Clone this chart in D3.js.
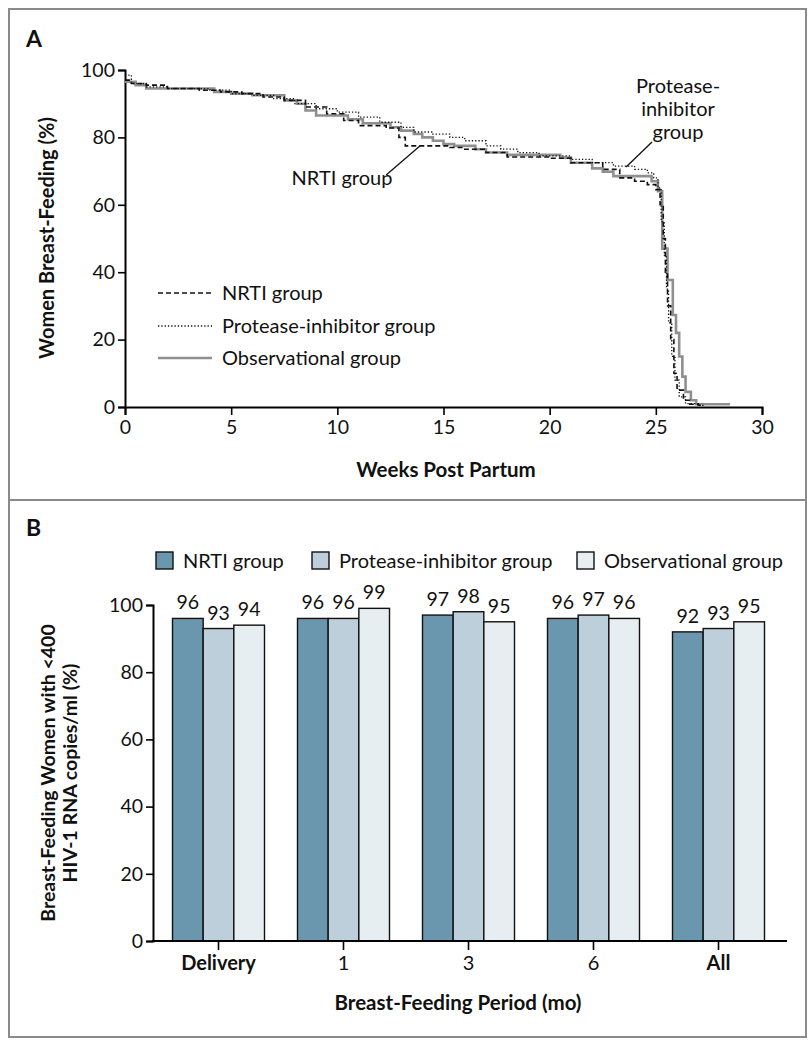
<!DOCTYPE html>
<html>
<head>
<meta charset="utf-8">
<script src="https://cdn.jsdelivr.net/npm/d3@7"></script>
<style>
  html, body { margin: 0; padding: 0; background: #fff; }
  svg { display: block; }
  text { font-family: Lato, "Open Sans", sans-serif; fill: #111; }
</style>
</head>
<body>
<script>
// ---------- Panel A data (Kaplan-Meier style step curves) ----------
const weekTicks = [0, 5, 10, 15, 20, 25, 30];
const pctTicksA = [0, 20, 40, 60, 80, 100];

const nrtiCurve = [
  [0, 97], [0.3, 96], [1, 95.5], [2, 94.5], [3.5, 94], [4.5, 93.5], [5.5, 93], [6.5, 92],
  [7.5, 91], [8.5, 89], [9.5, 87], [10.3, 85], [11, 83.5], [12.3, 82.8], [12.9, 80],
  [13.2, 77.5], [15.3, 77], [16, 76.5], [17, 75.5], [18, 74.2], [20, 73.8], [21, 72.5],
  [22.5, 70.5], [23.3, 68], [24, 67], [24.6, 66], [25, 64.5], [25.2, 60], [25.35, 50],
  [25.45, 40], [25.55, 30], [25.7, 20], [25.85, 10], [26, 5], [26.3, 2], [26.6, 0.8],
  [27, 0.5], [27.2, 0.5]
];
const piCurve = [
  [0, 98.5], [0.3, 96], [1, 95], [2, 94.5], [4, 94], [5, 93], [6, 92.5], [7, 91.5],
  [8, 90], [9, 88.5], [10, 87.5], [11, 86], [12, 84.5], [13, 83], [13.6, 81.6],
  [14.5, 81], [15.3, 80], [16, 79], [17, 77.5], [17.7, 76.5], [18.5, 75.5], [19.5, 74.5],
  [21, 73.5], [22, 72.5], [23, 71.5], [24, 70.5], [24.6, 69.5], [24.9, 68], [25.1, 65],
  [25.25, 55], [25.4, 45], [25.5, 35], [25.6, 25], [25.75, 15], [25.9, 8], [26.1, 3],
  [26.4, 1], [27, 0.5], [27.3, 0.5]
];
const obsCurve = [
  [0, 96.5], [0.5, 95.5], [1, 94.5], [4.2, 93.5], [5, 93], [6, 92.5], [7.5, 91],
  [8.1, 90], [8.5, 88], [9, 86.5], [10.5, 85.4], [11.2, 84.2], [12.5, 83], [13, 82],
  [13.6, 81], [14, 80], [14.5, 79], [15, 78], [15.5, 77.5], [16.5, 76.5], [17, 75.5],
  [18, 74.8], [20.5, 74], [21, 72.5], [22, 70.8], [22.5, 69.8], [23, 68.5], [24.8, 67],
  [25.1, 64], [25.3, 47], [25.55, 37.7], [25.8, 27.3], [25.95, 22], [26.1, 15],
  [26.25, 9], [26.4, 4.5], [26.65, 2], [26.9, 0.8], [28.5, 0.8]
];
const curveNames = ["NRTI group", "Protease-inhibitor group", "Observational group"];

// ---------- Panel B data ----------
const periods = ["Delivery", "1", "3", "6", "All"];
const boldPeriods = ["Delivery", "All"];
const groups = ["NRTI group", "Protease-inhibitor group", "Observational group"];
const nrtiPct = [96, 96, 97, 96, 92];
const piPct = [93, 96, 98, 97, 93];
const obsPct = [94, 99, 95, 96, 95];
const pctTicksB = [0, 20, 40, 60, 80, 100];
const barColors = ["#6a97ad", "#bccfda", "#e6eef2"];

const W = 810, H = 1050;
const svg = d3.select("body").append("svg").attr("width", W).attr("height", H);

// Frame
svg.append("rect").attr("x", 9).attr("y", 9).attr("width", 797).attr("height", 1028)
  .attr("fill", "none").attr("stroke", "#8a8a8a").attr("stroke-width", 2);
svg.append("line").attr("x1", 9).attr("x2", 806).attr("y1", 500).attr("y2", 500)
  .attr("stroke", "#8a8a8a").attr("stroke-width", 2);

const TXT = 20, TICK = 19.5;

// ================= PANEL A =================
svg.append("text").attr("x", 26).attr("y", 47).attr("font-size", 23).attr("font-weight", 700).text("A");

const xA = d3.scaleLinear().domain([0, 30]).range([125, 762]);
const yA = d3.scaleLinear().domain([0, 100]).range([407, 70]);

const gA = svg.append("g");
const axXA = gA.append("g").attr("transform", `translate(0,${yA(0)})`)
  .call(d3.axisBottom(xA).tickValues(weekTicks).tickSizeOuter(0).tickSize(8).tickPadding(5));
const axYA = gA.append("g").attr("transform", `translate(${xA(0)},0)`)
  .call(d3.axisLeft(yA).tickValues(pctTicksA).tickSizeOuter(0).tickSize(7).tickPadding(3));
[axXA, axYA].forEach(a => {
  a.select(".domain").attr("stroke", "#000").attr("stroke-width", 2);
  a.selectAll(".tick line").attr("stroke", "#000").attr("stroke-width", 1.6);
  a.selectAll(".tick text").attr("font-family", "Lato, sans-serif").attr("font-size", TICK).attr("fill", "#111");
});

svg.append("text").attr("x", 446).attr("y", 477).attr("text-anchor", "middle")
  .attr("font-size", 20.5).attr("font-weight", 700).text("Weeks Post Partum");
svg.append("text").attr("transform", `translate(54,238) rotate(-90)`).attr("text-anchor", "middle")
  .attr("font-family", "'Liberation Sans', Arial, sans-serif").attr("font-size", 20).attr("font-weight", 700)
  .text("Women Breast-Feeding (%)");

const lineA = d3.line().x(d => xA(d[0])).y(d => yA(d[1])).curve(d3.curveStepAfter);
const styles = [
  { stroke: "#111", width: 1.6, dash: "5,3" },
  { stroke: "#111", width: 1.3, dash: "1.3,2" },
  { stroke: "#8f8f8f", width: 2.6, dash: null }
];
const curves = [obsCurve, nrtiCurve, piCurve];
const curveStyle = [styles[2], styles[0], styles[1]];
curves.forEach((c, i) => {
  gA.append("path").attr("d", lineA(c)).attr("fill", "none")
    .attr("stroke", curveStyle[i].stroke).attr("stroke-width", curveStyle[i].width)
    .attr("stroke-dasharray", curveStyle[i].dash);
});

// Legend A
const legY = [293, 326, 358];
curveNames.forEach((n, i) => {
  svg.append("line").attr("x1", 158).attr("x2", 212).attr("y1", legY[i]).attr("y2", legY[i])
    .attr("stroke", styles[i].stroke).attr("stroke-width", styles[i].width)
    .attr("stroke-dasharray", styles[i].dash);
  svg.append("text").attr("x", 222).attr("y", legY[i] + 7).attr("font-size", TXT).text(n);
});

// Annotations A
svg.append("text").attr("x", 342).attr("y", 185).attr("text-anchor", "middle").attr("font-size", TXT).text("NRTI group");
svg.append("line").attr("x1", xA(12.3)).attr("y1", 175).attr("x2", xA(13.9)).attr("y2", yA(77.5))
  .attr("stroke", "#111").attr("stroke-width", 1.3);
["Protease-", "inhibitor", "group"].forEach((t, i) => {
  svg.append("text").attr("x", 678).attr("y", 93 + i * 23).attr("text-anchor", "middle")
    .attr("font-size", TXT).text(t);
});
svg.append("line").attr("x1", 652).attr("y1", 142).attr("x2", xA(23.6)).attr("y2", yA(71.2))
  .attr("stroke", "#111").attr("stroke-width", 1.3);

// ================= PANEL B =================
svg.append("text").attr("x", 26).attr("y", 536).attr("font-size", 23).attr("font-weight", 700).text("B");

const x0 = d3.scaleBand().domain(periods).range([156, 781]).paddingInner(0.264).paddingOuter(0.132);
const x1 = d3.scaleBand().domain(groups).range([0, x0.bandwidth()]);
const yB = d3.scaleLinear().domain([0, 100]).range([941, 605]);
const seriesVals = [nrtiPct, piPct, obsPct];

// Legend B
const legBX = [156, 312, 577];
groups.forEach((g, i) => {
  svg.append("rect").attr("x", legBX[i]).attr("y", 552).attr("width", 17).attr("height", 17)
    .attr("fill", barColors[i]).attr("stroke", "#111").attr("stroke-width", 1.4);
  svg.append("text").attr("x", legBX[i] + 27).attr("y", 568).attr("font-size", TXT).text(g);
});

const gB = svg.append("g");
periods.forEach((p, pi) => {
  groups.forEach((g, gi) => {
    const v = seriesVals[gi][pi];
    const bx = x0(p) + x1(g);
    gB.append("rect").attr("x", bx).attr("y", yB(v)).attr("width", x1.bandwidth())
      .attr("height", yB(0) - yB(v)).attr("fill", barColors[gi]).attr("stroke", "#111").attr("stroke-width", 1.4);
    gB.append("text").attr("x", bx + x1.bandwidth() / 2).attr("y", yB(v) - 9)
      .attr("text-anchor", "middle").attr("font-size", TICK).text(v);
  });
});

const axYB = gB.append("g").attr("transform", `translate(153,0)`)
  .call(d3.axisLeft(yB).tickValues(pctTicksB).tickSizeOuter(0).tickSize(7).tickPadding(3));
axYB.select(".domain").attr("stroke", "#000").attr("stroke-width", 2);
axYB.selectAll(".tick line").attr("stroke", "#000").attr("stroke-width", 1.6);
axYB.selectAll(".tick text").attr("font-size", TICK).attr("font-family", "Lato, sans-serif").attr("fill", "#111");

gB.append("line").attr("x1", 152).attr("x2", 787).attr("y1", yB(0)).attr("y2", yB(0))
  .attr("stroke", "#000").attr("stroke-width", 2);
const axXB = gB.append("g").attr("transform", `translate(0,${yB(0)})`)
  .call(d3.axisBottom(x0).tickSizeOuter(0).tickSize(9).tickPadding(6));
axXB.select(".domain").remove();
axXB.selectAll(".tick line").attr("stroke", "#000").attr("stroke-width", 1.6);
axXB.selectAll(".tick text").attr("font-size", 20).attr("font-family", "Lato, sans-serif").attr("fill", "#111")
  .attr("font-weight", d => boldPeriods.includes(d) ? 700 : 400);

svg.append("text").attr("x", 458).attr("y", 1010).attr("text-anchor", "middle")
  .attr("font-size", 20.5).attr("font-weight", 700).text("Breast-Feeding Period (mo)");
const yTitle = svg.append("text")
  .attr("font-family", "'Liberation Sans', Arial, sans-serif").attr("font-size", 19.5).attr("font-weight", 700)
  .attr("text-anchor", "middle").attr("transform", "rotate(-90)");
yTitle.append("tspan").attr("x", -773).attr("y", 55).text("Breast-Feeding Women with <400");
yTitle.append("tspan").attr("x", -773).attr("y", 77).text("HIV-1 RNA copies/ml (%)");
</script>
</body>
</html>
